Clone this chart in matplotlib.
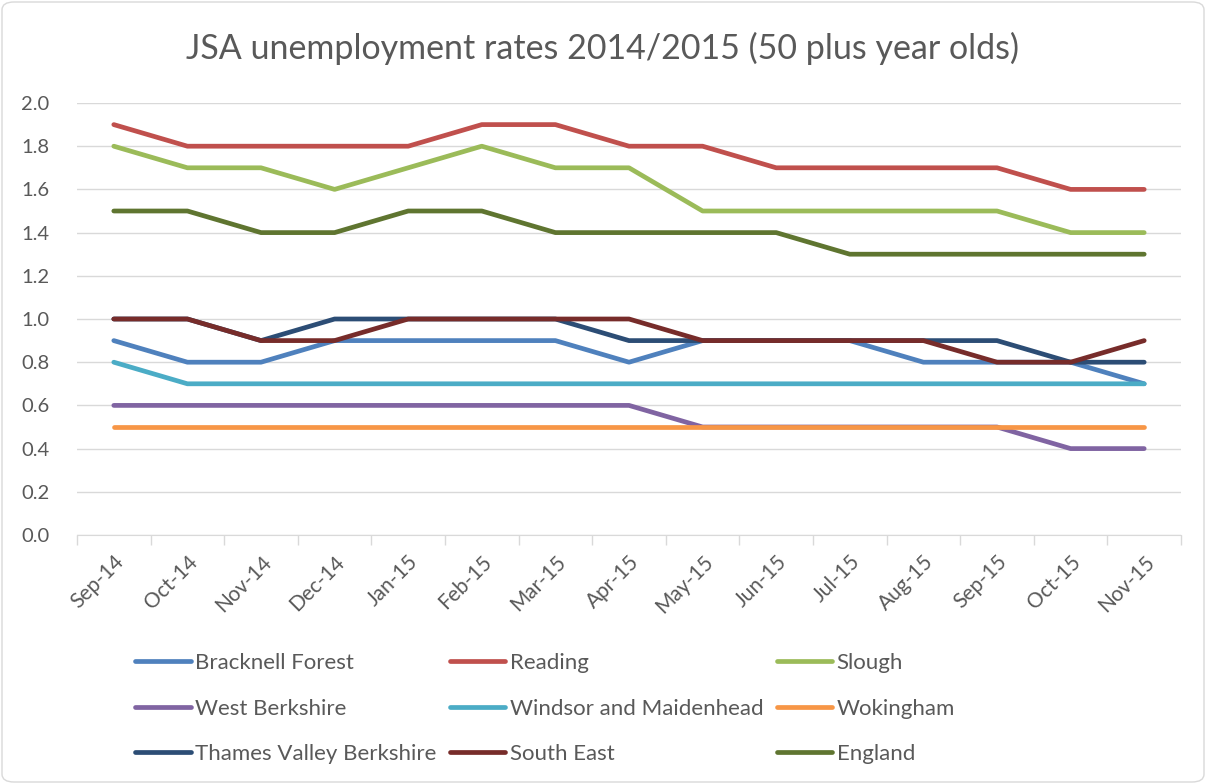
import matplotlib.pyplot as plt
from matplotlib.patches import FancyBboxPatch
from matplotlib.ticker import FixedLocator, MultipleLocator

plt.rcParams['font.family'] = ['Lato', 'DejaVu Sans']

months = ['Sep-14', 'Oct-14', 'Nov-14', 'Dec-14', 'Jan-15', 'Feb-15', 'Mar-15', 'Apr-15',
          'May-15', 'Jun-15', 'Jul-15', 'Aug-15', 'Sep-15', 'Oct-15', 'Nov-15']

bracknell = [0.9, 0.8, 0.8, 0.9, 0.9, 0.9, 0.9, 0.8, 0.9, 0.9, 0.9, 0.8, 0.8, 0.8, 0.7]
reading = [1.9, 1.8, 1.8, 1.8, 1.8, 1.9, 1.9, 1.8, 1.8, 1.7, 1.7, 1.7, 1.7, 1.6, 1.6]
slough = [1.8, 1.7, 1.7, 1.6, 1.7, 1.8, 1.7, 1.7, 1.5, 1.5, 1.5, 1.5, 1.5, 1.4, 1.4]
west_berks = [0.6, 0.6, 0.6, 0.6, 0.6, 0.6, 0.6, 0.6, 0.5, 0.5, 0.5, 0.5, 0.5, 0.4, 0.4]
windsor = [0.8, 0.7, 0.7, 0.7, 0.7, 0.7, 0.7, 0.7, 0.7, 0.7, 0.7, 0.7, 0.7, 0.7, 0.7]
wokingham = [0.5, 0.5, 0.5, 0.5, 0.5, 0.5, 0.5, 0.5, 0.5, 0.5, 0.5, 0.5, 0.5, 0.5, 0.5]
thames_valley = [1.0, 1.0, 0.9, 1.0, 1.0, 1.0, 1.0, 0.9, 0.9, 0.9, 0.9, 0.9, 0.9, 0.8, 0.8]
south_east = [1.0, 1.0, 0.9, 0.9, 1.0, 1.0, 1.0, 1.0, 0.9, 0.9, 0.9, 0.9, 0.8, 0.8, 0.9]
england = [1.5, 1.5, 1.4, 1.4, 1.5, 1.5, 1.4, 1.4, 1.4, 1.4, 1.3, 1.3, 1.3, 1.3, 1.3]

series = [
    ('Bracknell Forest', bracknell, '#4F81BD'),
    ('Reading', reading, '#C0504D'),
    ('Slough', slough, '#9BBB59'),
    ('West Berkshire', west_berks, '#8064A2'),
    ('Windsor and Maidenhead', windsor, '#4BACC6'),
    ('Wokingham', wokingham, '#F79646'),
    ('Thames Valley Berkshire', thames_valley, '#2C4D75'),
    ('South East', south_east, '#772C2A'),
    ('England', england, '#5F7530'),
]

W, H = 1206, 784
fig = plt.figure(figsize=(W / 100, H / 100), dpi=100)
ax = fig.add_axes([77 / W, 1 - 535 / H, (1181 - 77) / W, (535 - 103) / H])

x = list(range(len(months)))
lines = {}
for name, vals, col in series:
    ln, = ax.plot(x, vals, color=col, lw=3.4, solid_capstyle='round',
                  solid_joinstyle='round', label=name)
    lines[name] = ln

ax.set_xlim(-0.5, len(months) - 0.5)
ax.set_ylim(0, 2.0)
ax.yaxis.set_major_locator(MultipleLocator(0.2))
ax.yaxis.set_major_formatter(plt.FuncFormatter(lambda v, p: f'{v:.1f}'))
ax.grid(axis='y', color='#D9D9D9', lw=1)
ax.set_axisbelow(True)

# category labels centred, tick marks between categories (Excel style)
ax.set_xticks(x)
ax.set_xticklabels(months, rotation=45, ha='right', rotation_mode='anchor')
ax.xaxis.set_minor_locator(FixedLocator([i - 0.5 for i in range(len(months) + 1)]))
ax.tick_params(axis='x', which='major', length=0, pad=12, labelsize=15, labelcolor='#595959')
ax.tick_params(axis='x', which='minor', length=7, color='#D9D9D9', width=1)
ax.tick_params(axis='y', length=0, pad=20, labelsize=14.5, labelcolor='#595959')
for s in ['top', 'right', 'left']:
    ax.spines[s].set_visible(False)
ax.spines['bottom'].set_color('#D9D9D9')

fig.text(0.5, 1 - 48 / H, 'JSA unemployment rates 2014/2015 (50 plus year olds)',
         ha='center', va='center', fontsize=24.5, color='#595959')

# row-major order like the original legend
order = ['Bracknell Forest', 'West Berkshire', 'Thames Valley Berkshire',
         'Reading', 'Windsor and Maidenhead', 'South East',
         'Slough', 'Wokingham', 'England']
fig.legend([lines[n] for n in order], order, ncol=3, frameon=False,
           loc='upper left', bbox_to_anchor=(135 / W, 1 - 653 / H),
           fontsize=16, labelcolor='#595959', handlelength=2.5, handletextpad=0.2,
           columnspacing=0.6, labelspacing=1.15, borderaxespad=0, borderpad=0)

border = FancyBboxPatch((2 / W, 2 / H), 1 - 4 / W, 1 - 4 / H,
                        boxstyle='round,pad=0,rounding_size=0.01',
                        transform=fig.transFigure, fill=False,
                        edgecolor='#D9D9D9', lw=1)
fig.patches.append(border)

fig.savefig('out.png', dpi=100)
